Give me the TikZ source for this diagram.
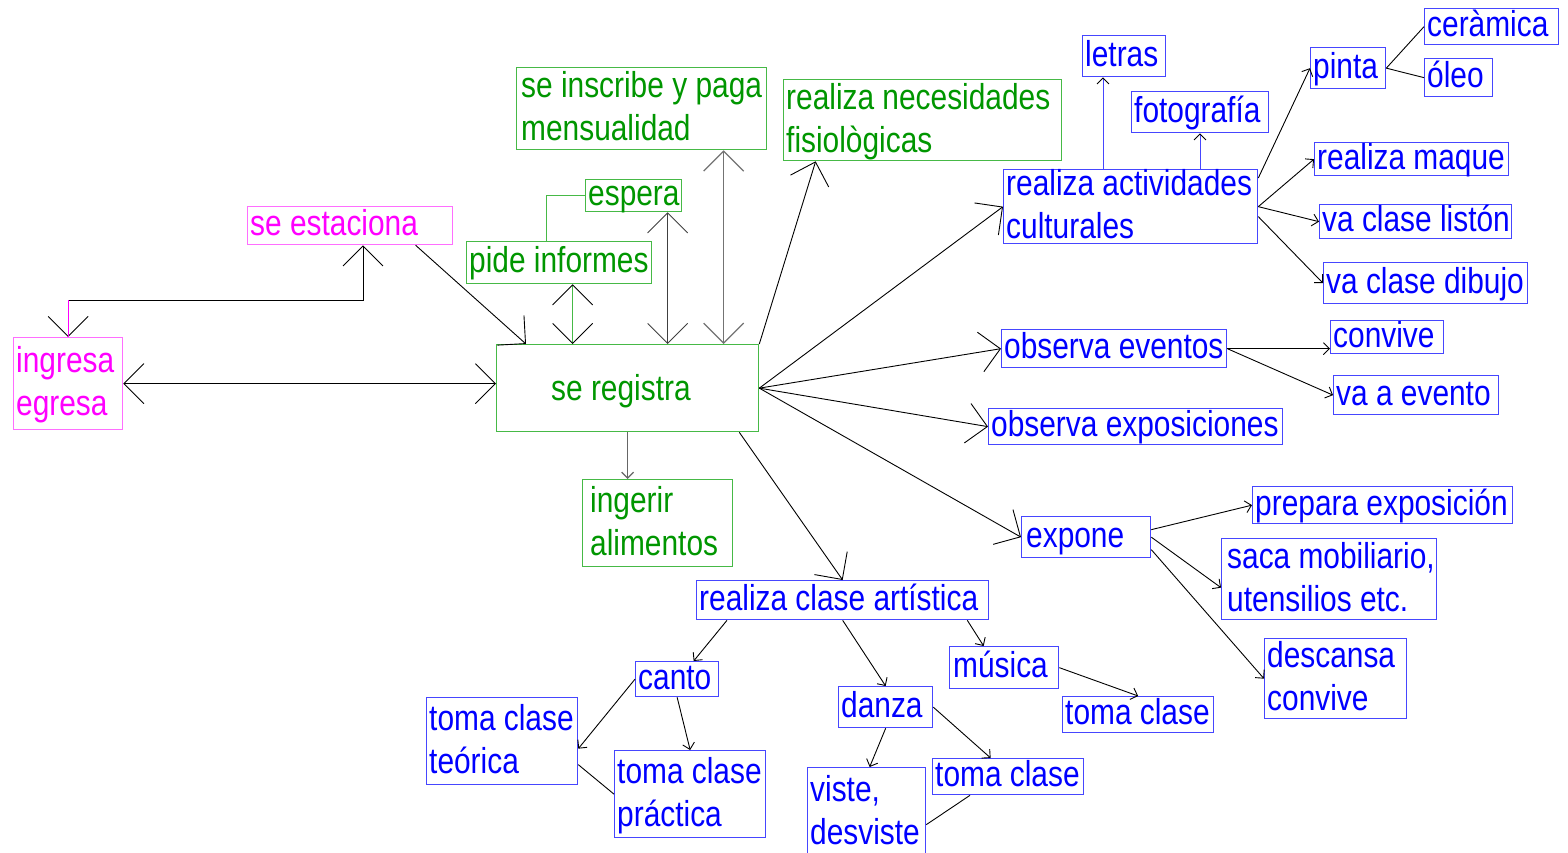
\documentclass[tikz,border=0pt]{standalone}
\usepackage{fontspec}
\setmainfont{Liberation Sans}[FakeStretch=0.83]
\usetikzlibrary{arrows.meta}
\definecolor{magT}{RGB}{255,0,255}
\definecolor{magB}{RGB}{255,110,255}
\definecolor{grnT}{RGB}{0,150,0}
\definecolor{grnB}{RGB}{70,185,70}
\definecolor{bluT}{RGB}{0,0,255}
\definecolor{bluB}{RGB}{70,70,255}
\tikzset{
  bigtip/.tip={Straight Barb[length=20pt,width=40pt]},
  bigtipk/.tip={Straight Barb[length=20pt,width=40pt,color=black]},
  smtip/.tip={Straight Barb[length=6pt,width=12pt]},
  smtipk/.tip={Straight Barb[length=6pt,width=12pt,color=black]},
  box/.style={draw, rectangle, inner sep=0pt, line width=1.3pt},
  mag/.style={box, draw=magB},
  grn/.style={box, draw=grnB},
  blu/.style={box, draw=bluB},
  txt/.style={inner sep=0pt, align=left, font=\fontsize{36}{43}\selectfont,
    execute at begin node=\strut, execute at end node=\strut},
  magtxt/.style={txt, text=magT},
  grntxt/.style={txt, text=grnT},
  blutxt/.style={txt, text=bluT},
  one/.style={yshift=-1.5pt},
  two/.style={yshift=-4pt},
  conn/.style={line width=0.9pt, draw=black},
  bb/.style={conn, bigtip-bigtip},
  bbg/.style={conn, draw=grnB, bigtipk-bigtipk},
  sa/.style={conn, -bigtip},
  ss/.style={conn, -smtip},
  ssb/.style={conn, draw=bluB, -smtipk},
}
% [text offset] name, x1, y1, x2, y2, colour style, line style, text
\newcommand\dbox[9][3pt]{%
  \node[#7, minimum width={#5pt-#3pt}, minimum height={#6pt-#4pt}, anchor=north west] (#2) at (#3,#4) {};
  \node[#7txt, anchor=west, #8] (#2-t) at ([xshift=#1]#2.west) {#9};}
\begin{document}
\begin{tikzpicture}[x=1pt,y=-1pt]
\useasboundingbox (0,0) rectangle (1568,852);
% magenta
\dbox{ing}{13}{337}{122}{429}{mag}{two}{ingresa\\egresa}
\dbox{est}{247}{206}{452}{244}{mag}{one}{se estaciona}
% green
\node[grn, minimum width=262pt, minimum height=87pt, anchor=north west] (reg) at (496,344) {};
\node[grntxt, anchor=base west] (reg-t) at ([xshift=55pt,yshift=-12.5pt]reg.west) {se registra};
\dbox{pide}{466}{241}{651}{283}{grn}{one}{pide informes}
\dbox{esp}{585}{179}{681}{211}{grn}{one}{espera}
\dbox[5pt]{ins}{516}{67}{766}{149}{grn}{two}{se inscribe y paga\\mensualidad}
\dbox{nec}{783}{79}{1061}{160}{grn}{two}{realiza necesidades\\fisiològicas}
\dbox[8pt]{ali}{582}{479}{732}{566}{grn}{two}{ingerir\\alimentos}
% blue
\dbox{act}{1003}{169}{1257}{243}{blu}{two}{realiza actividades\\culturales}
\dbox{let}{1082}{35}{1165}{76}{blu}{one}{letras}
\dbox{fot}{1131}{91}{1268}{132}{blu}{one}{fotografía}
\dbox{pin}{1310}{47}{1385}{88}{blu}{one}{pinta}
\dbox{cer}{1424}{8}{1558}{44}{blu}{one}{ceràmica}
\dbox{ole}{1424}{58}{1492}{96}{blu}{one}{óleo}
\dbox{maq}{1314}{142}{1508}{175}{blu}{one}{realiza maque}
\dbox{lis}{1319}{204}{1511}{238}{blu}{one}{va clase listón}
\dbox{dib}{1323}{262}{1527}{303}{blu}{one}{va clase dibujo}
\dbox{oev}{1001}{329}{1226}{367}{blu}{one}{observa eventos}
\dbox{con}{1330}{320}{1443}{353}{blu}{one}{convive}
\dbox{vae}{1333}{375}{1498}{414}{blu}{one}{va a evento}
\dbox{oex}{988}{408}{1282}{444}{blu}{one}{observa exposiciones}
\dbox[5pt]{exp}{1021}{516}{1150}{557}{blu}{one}{expone}
\dbox{pre}{1252}{486}{1512}{523}{blu}{one}{prepara exposición}
\dbox[6pt]{sac}{1221}{538}{1436}{619}{blu}{two}{saca mobiliario,\\utensilios etc.}
\dbox{des}{1264}{638}{1406}{718}{blu}{two}{descansa\\convive}
\dbox{art}{696}{580}{988}{619}{blu}{one}{realiza clase artística}
\dbox{can}{635}{661}{718}{696}{blu}{one}{canto}
\dbox{teo}{426}{697}{577}{784}{blu}{two}{toma clase\\teórica}
\dbox{pra}{614}{750}{765}{837}{blu}{two}{toma clase\\práctica}
\dbox[4pt]{mus}{949}{646}{1058}{688}{blu}{one}{música}
\dbox{tcm}{1062}{696}{1213}{732}{blu}{one}{toma clase}
\dbox{dan}{838}{686}{932}{727}{blu}{one}{danza}
\dbox{tcd}{932}{758}{1083}{794}{blu}{one}{toma clase}
\dbox{vis}{807}{767}{925}{856}{blu}{two}{viste,\\desviste}
% connectors, left part
\draw[bb] (ing.east) -- (ing.east -| reg.west);
\coordinate (k1) at (363,300);
\draw[bb] (ing.north) |- (k1) -- (k1 |- est.south);
\draw[magT, line width=0.9pt] (ing.north) -- (ing.north |- k1);
\draw[sa] ([xshift=65.5pt]est.south) -- ([xshift=30pt]reg.north west);
\coordinate (p1) at ([xshift=13.5pt]pide.south);
\draw[bbg] (p1) -- (p1 |- reg.north);
\coordinate (p2) at ([xshift=34pt]esp.south);
\draw[bb, draw=black!75] (p2) -- (p2 |- reg.north);
\coordinate (p3) at ([xshift=82pt]ins.south);
\draw[bb, draw=black!55, line width=1.2pt] (p3) -- (p3 |- reg.north);
\draw[grnB, line width=1pt] ([xshift=-12.5pt]pide.north) |- (esp.west);
\draw[sa] (reg.north east) -- ([xshift=-107pt]nec.south);
\draw[sa] (reg.east) -- (act.west);
\draw[sa] (reg.east) -- (oev.west);
\draw[sa] (reg.east) -- (oex.west);
\draw[sa] (reg.east) -- (exp.west);
\draw[sa] ([xshift=-20pt]reg.south east) -- (art.north);
\draw[ss, draw=black!60, line width=1.2pt] (reg.south) -- (reg.south |- ali.north);
% connectors, blue part
\coordinate (q1) at ([xshift=100pt]act.north west);
\draw[ssb] (q1) -- (q1 |- let.south);
\coordinate (q2) at ([xshift=197pt]act.north west);
\draw[ssb] (q2) -- (q2 |- fot.south);
\draw[ss] ([yshift=-9pt]act.north east) -- (pin.west);
\draw[conn] (pin.east) -- (cer.west);
\draw[conn] (pin.east) -- (ole.west);
\draw[ss] (act.east) -- (maq.west);
\draw[ss] (act.east) -- (lis.west);
\draw[ss] ([yshift=-10pt]act.east) -- (dib.west);
\draw[ss] (oev.east) -- (oev.east -| con.west);
\draw[ss] (oev.east) -- (vae.west);
\draw[ss] ([yshift=7.5pt]exp.east) -- (pre.west);
\draw[ss] (exp.east) -- ([yshift=-8.5pt]sac.west);
\draw[ss] ([yshift=-12.5pt]exp.east) -- (des.west);
\draw[ss] ([xshift=31pt]art.south west) -- ([xshift=16.5pt]can.north);
\draw[ss] (can.west) -- ([yshift=-7.5pt]teo.east);
\draw[ss] (can.south) -- (pra.north);
\draw[conn] ([yshift=-23.5pt]teo.east) -- (pra.west);
\draw[ss] (art.south) -- (dan.north);
\draw[ss] ([xshift=-22pt]art.south east) -- ([xshift=-20.5pt]mus.north);
\draw[ss] (mus.east) -- (tcm.north);
\draw[ss] (dan.south) -- ([xshift=3pt]vis.north);
\draw[ss] (dan.east) -- ([xshift=-17.5pt]tcd.north);
\draw[conn] ([xshift=38pt]tcd.south west) -- ([yshift=-12.5pt]vis.east);
\end{tikzpicture}
\end{document}
